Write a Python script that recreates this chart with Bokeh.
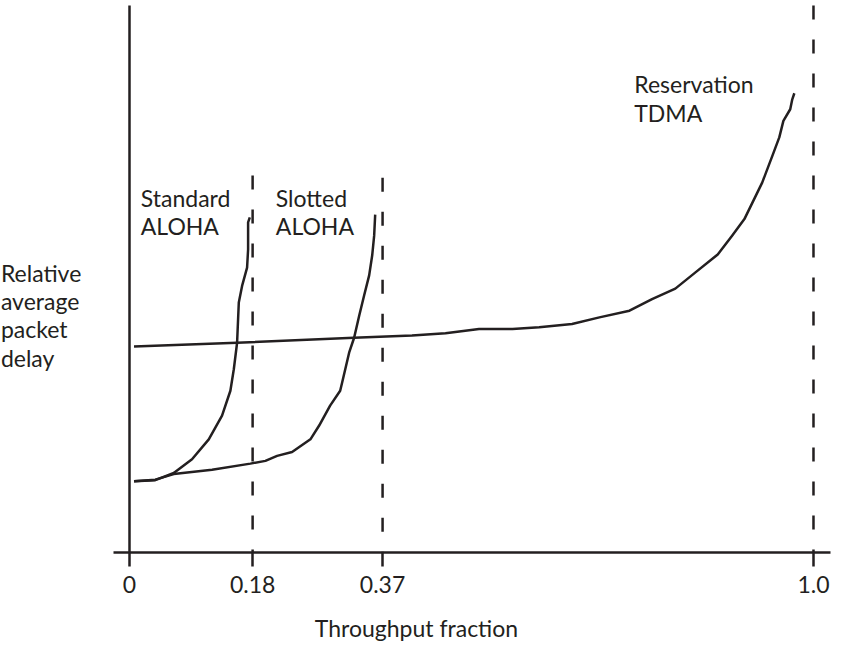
from bokeh.plotting import figure
from bokeh.models import Range1d, FixedTicker, Label, ColumnDataSource
from bokeh.embed import file_html
from bokeh.resources import INLINE

# ---- data (throughput fraction vs relative average packet delay, arbitrary units) ----
std_x = [0.0066, 0.0377, 0.0647, 0.0914, 0.1159, 0.1353, 0.1475, 0.1525, 0.1573,
         0.1598, 0.1646, 0.1719, 0.1734, 0.1734, 0.1759]
std_y = [12.9, 13.1, 14.4, 16.9, 20.5, 24.8, 29.3, 33.2, 38.0,
         45.3, 48.3, 51.6, 54.9, 59.8, 60.7]

slot_x = [0.0066, 0.0377, 0.0647, 0.1207, 0.1767, 0.1987, 0.2158, 0.2377, 0.2645,
          0.2773, 0.2933, 0.3080, 0.3109, 0.3211, 0.3284, 0.3358, 0.3431, 0.3504,
          0.3548, 0.3577, 0.3592]
slot_y = [12.9, 13.2, 14.2, 15.0, 16.1, 16.6, 17.5, 18.2, 20.5,
          23.0, 26.6, 29.3, 30.8, 36.2, 38.9, 42.9, 46.6, 50.2,
          53.8, 57.4, 61.2]

tdma_x = [0.0066, 0.157, 0.328, 0.413, 0.462, 0.511, 0.560, 0.599, 0.647, 0.687,
          0.731, 0.764, 0.798, 0.827, 0.860, 0.881, 0.899, 0.925, 0.940, 0.950,
          0.956, 0.966, 0.969, 0.972]
tdma_y = [37.3, 38.0, 38.9, 39.3, 39.7, 40.5, 40.5, 40.8, 41.4, 42.6,
          43.8, 45.9, 47.8, 50.7, 54.0, 57.4, 60.4, 67.0, 71.9, 75.2,
          78.2, 80.3, 82.1, 83.2]

# capacity limits (dashed verticals) and their top extent
limit_x = [0.18, 0.37, 1.0]
limit_top = [68.3, 67.9, 99.1]

tick_values = [0, 0.18, 0.37, 1.0]
tick_labels = ["0", "0.18", "0.37", "1.0"]

FONT = "Lato"
FS = "23px"
INK = "#231f20"

p = figure(frame_width=832, frame_height=552, output_backend="svg",
           toolbar_location=None, y_axis_location=None,
           x_range=Range1d(-0.1886, 1.0278), y_range=Range1d(0, 100),
           min_border_left=0, min_border_right=0, min_border_top=0, min_border_bottom=0)
p.outline_line_color = None
p.grid.visible = False
p.background_fill_color = "white"

# y axis line (vertical at throughput 0)
p.segment(x0=[0], y0=[0], x1=[0], y1=[99.1], line_color=INK, line_width=2.5)

# dashed capacity lines, drawn from top downward
src = ColumnDataSource(dict(x=limit_x, top=limit_top, bottom=[0] * len(limit_x)))
p.segment(x0="x", y0="top", x1="x", y1="bottom", source=src,
          line_color=INK, line_width=2.5, line_dash="14 20")

for xs, ys in [(std_x, std_y), (slot_x, slot_y), (tdma_x, tdma_y)]:
    p.line(xs, ys, line_color=INK, line_width=2.5, line_join="round")

ax = p.xaxis[0]
ax.ticker = FixedTicker(ticks=tick_values)
ax.major_label_overrides = {v: s for v, s in zip(tick_values, tick_labels)}
ax.bounds = (-0.0234, 1.0249)
ax.axis_line_width = 2.5
ax.axis_line_color = INK
ax.major_tick_line_width = 2.5
ax.major_tick_line_color = INK
ax.major_tick_out = 14
ax.major_tick_in = 0
ax.minor_tick_out = 0
ax.minor_tick_in = 0
ax.major_label_text_font = FONT
ax.major_label_text_font_size = FS
ax.major_label_text_color = INK
ax.major_label_standoff = 9
ax.axis_label = "Throughput fraction"
ax.axis_label_text_font = FONT
ax.axis_label_text_font_size = FS
ax.axis_label_text_font_style = "normal"
ax.axis_label_text_color = INK
ax.axis_label_standoff = 18

labels = [
    ("Relative", -0.188, 50.7), ("average", -0.188, 45.65),
    ("packet", -0.188, 40.4), ("delay", -0.188, 35.3),
    ("Standard", 0.0165, 64.3), ("ALOHA", 0.0165, 59.1),
    ("Slotted", 0.2139, 64.3), ("ALOHA", 0.2139, 59.1),
    ("Reservation", 0.738, 84.8), ("TDMA", 0.738, 79.7),
]
for t, x, y in labels:
    p.add_layout(Label(x=x, y=y, text=t, text_font=FONT, text_font_size=FS,
                       text_color=INK, text_baseline="alphabetic", text_align="left"))

open("out.html", "w").write(file_html(p, INLINE))
